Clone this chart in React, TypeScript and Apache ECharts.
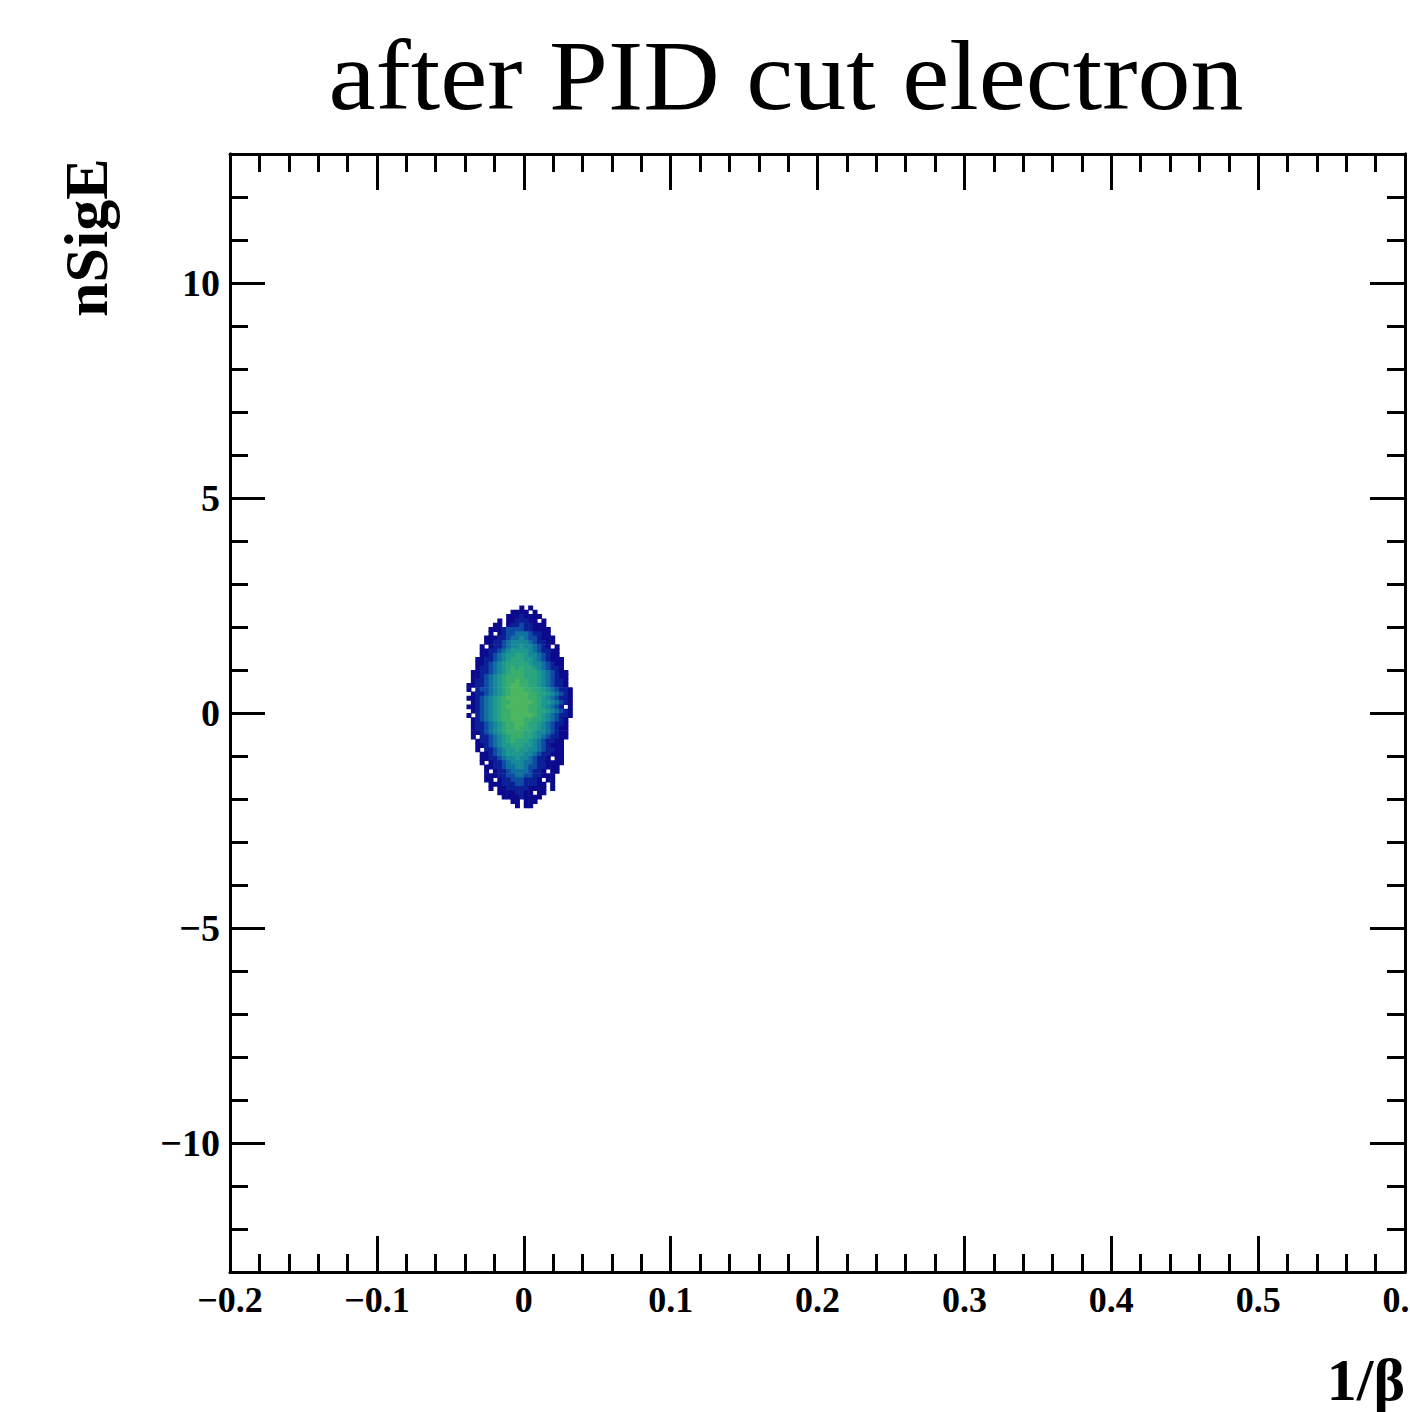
import React, { useEffect, useRef } from "react";
import * as echarts from "echarts";

const TITLE = "after PID cut electron";
const X_NAME = "1/\u03b2";
const Y_NAME = "nSigE";

const X_MIN = -0.2;
const X_MAX = 0.6;
const X_STEP = 0.1;
const Y_MIN = -13;
const Y_MAX = 13;
const Y_MAJOR = [-10, -5, 0, 5, 10];
const Y_MINOR_STEP = 1;

// 2D histogram bins: each character is a colour level, "." = empty
const BIN_X = 0.003;
const X_START = -0.039;
const BIN_Y = 0.1;
const Y_TOP = 2.5;
const GRID = [
  "............1.1.........",
  "..........1111.1........",
  ".........11121111.......",
  ".......1.1122211.1......",
  "......11.122322111......",
  ".....11123333221111.....",
  ".....1.123344432211.....",
  "....1112234454332111....",
  "....1122345555432211....",
  "...1.12234556554321.1...",
  "...112234566665432211...",
  "...112345667765543211...",
  "..11223456777665432111..",
  "..11234567777765543211..",
  "..12234567878776543221..",
  ".1122345678887776543211.",
  ".1123456788887776543211.",
  ".1223456788988776543221.",
  "11223456789988776543221.",
  "1.2334567899988776543221",
  ".12234567899998877654321",
  "112345678999998876543221",
  ".12345678899999876654321",
  "1123456789999988765432.1",
  ".12345678899998877654321",
  "1.2345678899999876543221",
  ".1234567889998877654321.",
  ".1223456788998776543221.",
  ".1223456788988776543211.",
  ".1123456788887765543211.",
  ".1.22345678887765432211.",
  "..12234567877765432211..",
  "..11234566777665432111..",
  "..1.223456676655432211..",
  "...1123456666554322111..",
  "...1122345565543221.11..",
  "...1.12234555443221111..",
  "....11223445543322111...",
  "....1.122344443221.11...",
  "....1112233443322111....",
  "....11.1223332221.11....",
  ".....1112223322211.1....",
  ".....1.11222221111.1....",
  ".......11112211.11......",
  "........111121111.......",
  "..........11.111........",
  "...........1.11.........",
];

const PALETTE = [
  "#0c0a8c",
  "#0b2096",
  "#0e4ba4",
  "#10709f",
  "#16889a",
  "#1d998f",
  "#2aa57f",
  "#3aae6c",
  "#4cb660",
];

const FONT = "'Liberation Serif', 'Times New Roman', serif";

function fmt(v: number): string {
  const s = Math.abs(v) < 1e-9 ? "0" : String(+v.toFixed(2));
  return s.replace("-", "\u2212");
}

function buildData(): number[][] {
  const out: number[][] = [];
  GRID.forEach((row, r) => {
    for (let c = 0; c < row.length; c++) {
      const ch = row[c];
      if (ch === ".") continue;
      const lvl = parseInt(ch, 10);
      out.push([X_START + (c + 0.5) * BIN_X, Y_TOP - (r + 0.5) * BIN_Y, lvl]);
    }
  });
  return out;
}

export default function App() {
  const ref = useRef<HTMLDivElement>(null);

  useEffect(() => {
    if (!ref.current) return;
    const chart = echarts.init(ref.current, undefined, { renderer: "svg" });

    const lineStyle = { color: "#000", width: 3 };
    const baseX = {
      type: "value",
      min: X_MIN,
      max: X_MAX,
      interval: X_STEP,
      axisLine: { show: true, onZero: false, lineStyle },
      axisTick: { show: true, inside: true, length: 36, lineStyle },
      minorTick: { show: true, splitNumber: 5, length: 18, lineStyle },
      splitLine: { show: false },
      minorSplitLine: { show: false },
    };
    const baseY = {
      type: "value",
      min: Y_MIN,
      max: Y_MAX,
      axisLine: { show: true, onZero: false, lineStyle },
      splitLine: { show: false },
    };

    chart.setOption({
      animation: false,
      backgroundColor: "#fff",
      grid: {
        left: 230,
        right: 5,
        top: 154,
        bottom: 140,
        containLabel: false,
        outerBoundsMode: "none",
      },
      xAxis: [
        {
          ...baseX,
          position: "bottom",
          axisLabel: {
            show: true,
            margin: 10,
            fontSize: 36,
            fontWeight: "bold",
            fontFamily: FONT,
            color: "#000",
            hideOverlap: false,
            formatter: (v: number) => fmt(v),
          },
        },
        { ...baseX, position: "top", axisLabel: { show: false } },
      ],
      yAxis: [
        {
          ...baseY,
          position: "left",
          axisTick: { show: true, inside: true, length: 35, lineStyle, customValues: Y_MAJOR },
          axisLabel: {
            show: true,
            customValues: Y_MAJOR,
            margin: 10,
            fontSize: 38,
            fontWeight: "bold",
            fontFamily: FONT,
            color: "#000",
            formatter: (v: number) => fmt(v),
          },
        },
        {
          ...baseY,
          position: "left",
          interval: Y_MINOR_STEP,
          axisTick: { show: true, inside: true, length: 18, lineStyle },
          axisLabel: { show: false },
        },
        {
          ...baseY,
          position: "right",
          axisTick: { show: true, inside: true, length: 35, lineStyle, customValues: Y_MAJOR },
          axisLabel: { show: false },
        },
        {
          ...baseY,
          position: "right",
          interval: Y_MINOR_STEP,
          axisTick: { show: true, inside: true, length: 18, lineStyle },
          axisLabel: { show: false },
        },
      ],
      series: [
        {
          type: "custom",
          xAxisIndex: 0,
          yAxisIndex: 0,
          data: buildData(),
          renderItem: (_params: any, api: any) => {
            const x = api.value(0);
            const y = api.value(1);
            const lvl = api.value(2);
            const p0 = api.coord([x - BIN_X / 2, y + BIN_Y / 2]);
            const p1 = api.coord([x + BIN_X / 2, y - BIN_Y / 2]);
            return {
              type: "rect",
              shape: {
                x: p0[0],
                y: p0[1],
                width: p1[0] - p0[0] + 0.6,
                height: p1[1] - p0[1] + 0.6,
              },
              style: { fill: PALETTE[Math.max(0, Math.min(PALETTE.length - 1, lvl - 1))] },
            };
          },
        },
      ],
      graphic: [
        {
          type: "text",
          x: 786,
          y: 75,
          scaleX: 1.06,
          style: {
            text: TITLE,
            fontSize: 100,
            fontFamily: FONT,
            fill: "#000",
            align: "center",
            verticalAlign: "middle",
            textAlign: "center",
            textVerticalAlign: "middle",
          },
        },
        {
          type: "text",
          x: 86,
          y: 317,
          rotation: Math.PI / 2,
          style: {
            text: Y_NAME,
            fontSize: 62,
            fontWeight: "bold",
            fontFamily: FONT,
            fill: "#000",
            align: "left",
            verticalAlign: "middle",
            textAlign: "left",
            textVerticalAlign: "middle",
          },
        },
        {
          type: "text",
          x: 1405,
          y: 1380,
          style: {
            text: X_NAME,
            fontSize: 60,
            fontWeight: "bold",
            fontFamily: FONT,
            fill: "#000",
            align: "right",
            verticalAlign: "middle",
            textAlign: "right",
            textVerticalAlign: "middle",
          },
        },
      ],
    });

    return () => chart.dispose();
  }, []);

  return (
    <div
      ref={ref}
      style={{ position: "absolute", left: 0, top: 0, width: 1410, height: 1412, background: "#fff" }}
    />
  );
}
